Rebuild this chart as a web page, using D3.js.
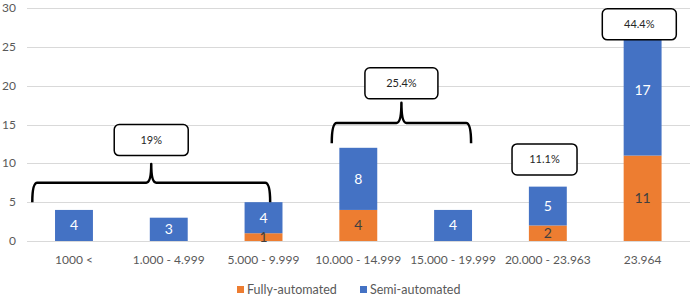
<!DOCTYPE html>
<html>
<head>
<meta charset="utf-8">
<script src="https://cdn.jsdelivr.net/npm/d3@7"></script>
<style>
  body { margin: 0; background: #fff; }
  text { font-family: Lato, "Open Sans", sans-serif; }
</style>
</head>
<body>
<script>
const categories = ["1000 <", "1.000 - 4.999", "5.000 - 9.999", "10.000 - 14.999", "15.000 - 19.999", "20.000 - 23.963", "23.964"];
const fullyAutomated = [0, 0, 1, 4, 0, 2, 11];
const semiAutomated = [4, 3, 4, 8, 4, 5, 17];
const yTicks = [0, 5, 10, 15, 20, 25, 30];
const seriesNames = ["Fully-automated", "Semi-automated"];

// share annotations: brace over a range of categories, or just a box
const shareLabels = ["19%", "25.4%", "11.1%", "44.4%"];
const shareFrom = [0, 3, 5, 6];
const shareTo = [2, 4, 5, 6];

const width = 690;
const height = 299;
const colors = ["#ED7D31", "#4472C4"];

const svg = d3.select("body")
  .append("svg")
  .attr("width", width)
  .attr("height", height);

const x = d3.scaleBand()
  .domain(categories)
  .range([26.6, 690])
  .paddingInner(0.6)
  .paddingOuter(0.3);

const y = d3.scaleLinear()
  .domain([0, 30])
  .range([241, 8]);

// gridlines
svg.append("g")
  .selectAll("line")
  .data(yTicks)
  .join("line")
  .attr("x1", 27)
  .attr("x2", 690)
  .attr("y1", d => Math.round(y(d)) + 0.5)
  .attr("y2", d => Math.round(y(d)) + 0.5)
  .attr("stroke", "#d9d9d9")
  .attr("stroke-width", 1);

// y labels
svg.append("g")
  .selectAll("text")
  .data(yTicks)
  .join("text")
  .attr("x", 16)
  .attr("y", d => y(d) + 4)
  .attr("text-anchor", "end")
  .attr("font-size", 12)
  .attr("fill", "#595959")
  .text(d => d);

// stacked bars
const rows = categories.map((c, i) => ({ cat: c, fully: fullyAutomated[i], semi: semiAutomated[i] }));
const stack = d3.stack().keys(["fully", "semi"])(rows);

const layers = svg.append("g")
  .selectAll("g")
  .data(stack)
  .join("g")
  .attr("fill", (d, i) => colors[i]);

layers.selectAll("rect")
  .data(d => d.filter(s => s[1] - s[0] > 0))
  .join("rect")
  .attr("x", d => x(d.data.cat))
  .attr("width", x.bandwidth())
  .attr("y", d => y(d[1]))
  .attr("height", d => y(d[0]) - y(d[1]));

// value labels
stack.forEach((layer, li) => {
  svg.append("g")
    .selectAll("text")
    .data(layer.filter(s => s[1] - s[0] > 0))
    .join("text")
    .attr("x", d => x(d.data.cat) + x.bandwidth() / 2)
    .attr("y", d => y((d[0] + d[1]) / 2) + 5)
    .attr("text-anchor", "middle")
    .attr("font-size", 14)
    .attr("fill", li === 0 ? "#404040" : "#ffffff")
    .text(d => d[1] - d[0]);
});

// x labels
svg.append("g")
  .selectAll("text")
  .data(categories)
  .join("text")
  .attr("x", d => x(d) + x.bandwidth() / 2)
  .attr("y", 264)
  .attr("text-anchor", "middle")
  .attr("font-size", 12)
  .attr("fill", "#595959")
  .text(d => d);

// braces and share boxes
const step = x.step();
const center = i => x(categories[i]) + x.bandwidth() / 2;
// brace layout in value units: [endY, lineY, tipY, boxBottom, boxTop]
const braceLevels = [[5, 7.5, 9.9, 11, 15], [12.6, 15.2, 17.8, 18.3, 22.3], null, null];
const boxLevels = [null, null, [8.5, 12.5], [25.9, 29.9]];
const braceSpan = [[-0.44, 0.07], [-0.28, 0.19], null, null];
const boxWidth = [74, 73, 65, 74];

shareLabels.forEach((label, k) => {
  let cx, b0, b1;
  if (braceLevels[k]) {
    const [endV, lineV, tipV, bb, bt] = braceLevels[k];
    const x0 = center(shareFrom[k]) + braceSpan[k][0] * step;
    const x1 = center(shareTo[k]) + braceSpan[k][1] * step;
    cx = (x0 + x1) / 2;
    const ye = y(endV), yl = y(lineV), yt = y(tipV);
    const r = 5;
    const p = d3.path();
    p.moveTo(x0, ye);
    p.quadraticCurveTo(x0, yl, x0 + r, yl);
    p.lineTo(cx - r, yl);
    p.quadraticCurveTo(cx, yl, cx, yt);
    p.quadraticCurveTo(cx, yl, cx + r, yl);
    p.lineTo(x1 - r, yl);
    p.quadraticCurveTo(x1, yl, x1, ye);
    svg.append("path")
      .attr("d", p.toString())
      .attr("fill", "none")
      .attr("stroke", "#000")
      .attr("stroke-width", 2.5)
      .attr("stroke-linejoin", "round");
    b0 = bb; b1 = bt;
  } else {
    cx = center(shareFrom[k]) - 0.035 * step;
    [b0, b1] = boxLevels[k];
  }
  const w = boxWidth[k];
  svg.append("rect")
    .attr("x", cx - w / 2)
    .attr("y", y(b1))
    .attr("width", w)
    .attr("height", y(b0) - y(b1))
    .attr("rx", 5)
    .attr("fill", "#fff")
    .attr("stroke", "#000")
    .attr("stroke-width", 1.5);
  svg.append("text")
    .attr("x", cx)
    .attr("y", (y(b0) + y(b1)) / 2 + 4)
    .attr("text-anchor", "middle")
    .attr("font-size", 11)
    .attr("fill", "#262626")
    .text(label);
});

// legend
const legendX = [237, 360];
const legend = svg.append("g");
seriesNames.forEach((name, i) => {
  legend.append("rect")
    .attr("x", legendX[i])
    .attr("y", 286)
    .attr("width", 7)
    .attr("height", 7)
    .attr("fill", colors[i]);
  legend.append("text")
    .attr("x", legendX[i] + 10)
    .attr("y", 294)
    .attr("font-size", 12.5)
    .attr("fill", "#595959")
    .text(name);
});
</script>
</body>
</html>
